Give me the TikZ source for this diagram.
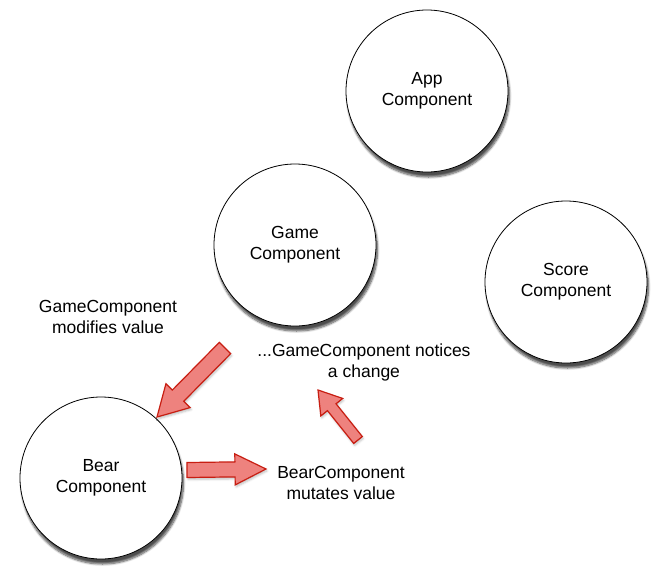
\documentclass[tikz,border=0pt]{standalone}
\usepackage{fontspec}
\setmainfont{Liberation Sans}
\usepackage{tikz}
\usetikzlibrary{calc,shadows.blur}
\definecolor{arrowfill}{RGB}{238,130,126}
\definecolor{arrowline}{RGB}{200,30,18}
\tikzset{
    comp-circle/.style = {draw=black, fill=white, thick, circle, minimum size=162pt, inner sep=0pt, align=center,
        blur shadow={shadow xshift=1.5pt, shadow yshift=-5pt, shadow opacity=70, shadow blur steps=8}},
    note-text/.style = {align=center, inner sep=0pt},
    block-arrow/.style = {fill=arrowfill, draw=arrowline, line width=1.2pt, line join=miter,
        blur shadow={shadow xshift=1pt, shadow yshift=-2pt, shadow opacity=25, shadow blur steps=4}},
}
% tail, tip, half shaft, half head, head length
\newcommand{\blockarrow}[5]{%
    \coordinate (#2-base) at ($(#2)!#5!(#1)$);
    \path[block-arrow] ($(#1)!#3!90:(#2)$) -- ($(#2-base)!#3!90:(#2)$) -- ($(#2-base)!#4!90:(#2)$) -- (#2)
        -- ($(#2-base)!#4!-90:(#2)$) -- ($(#2-base)!#3!-90:(#2)$) -- ($(#1)!#3!-90:(#2)$) -- cycle;
}
\begin{document}
\begin{tikzpicture}[x=1pt, y=1pt, font=\fontsize{17.5}{21}\selectfont]
\useasboundingbox (0,0) rectangle (667,-582);

\node [comp-circle] (app) at (427,-91) {App\\Component};
\node [comp-circle] (game) at (295,-245) {Game\\Component};
\node [comp-circle] (score) at (566,-282) {Score\\Component};
\node [comp-circle] (bear) at (101,-478) {Bear\\Component};

\node [note-text] (modifies) at (108,-317) {GameComponent\\modifies value};
\node [note-text] (notices) at (364,-362) {...GameComponent notices\\a change};
\node [note-text] (mutates) at (341,-483) {BearComponent\\mutates value};

\coordinate (mod-tail) at (225,-348);
\coordinate (mod-tip) at (157,-417);
\coordinate (mut-tail) at (187,-470);
\coordinate (mut-tip) at (266,-469);
\coordinate (not-tail) at (358,-440);
\coordinate (not-tip) at (318,-390);

\blockarrow{mod-tail}{mod-tip}{8pt}{17pt}{30pt}
\blockarrow{mut-tail}{mut-tip}{7.5pt}{15.5pt}{31pt}
\blockarrow{not-tail}{not-tip}{5.5pt}{14pt}{22pt}
\end{tikzpicture}
\end{document}
